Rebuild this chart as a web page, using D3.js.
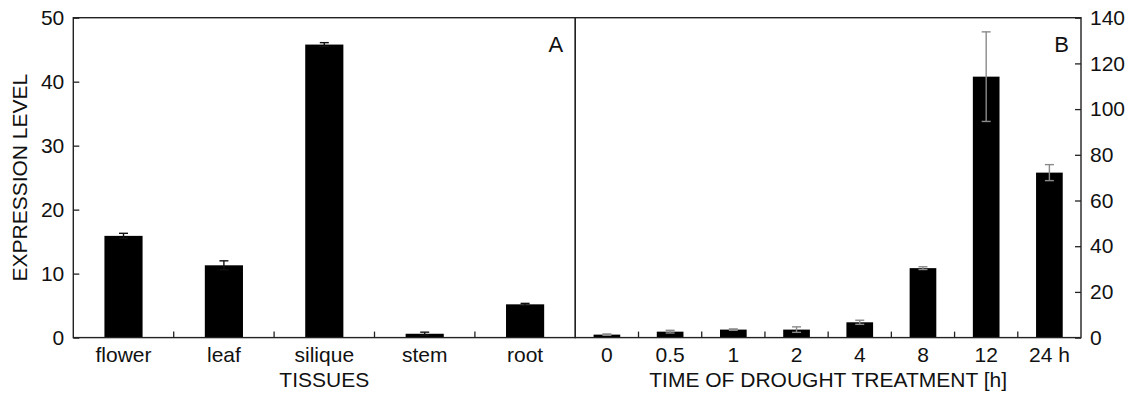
<!DOCTYPE html>
<html>
<head>
<meta charset="utf-8">
<script src="https://cdn.jsdelivr.net/npm/d3@7"></script>
<style>
  body { margin: 0; background: #fff; }
  text { font-family: "Liberation Sans", Arial, sans-serif; fill: #111; }
</style>
</head>
<body>
<svg id="chart" width="1128" height="394"></svg>
<script>
// panel A: tissues
const tissues = ["flower", "leaf", "silique", "stem", "root"];
const tissueValues = [15.9, 11.3, 45.8, 0.6, 5.2];
const tissueErrors = [0.4, 0.7, 0.3, 0.25, 0.15];
const yTicksA = [0, 10, 20, 30, 40, 50];

// panel B: time of drought treatment
const times = ["0", "0.5", "1", "2", "4", "8", "12", "24 h"];
const droughtValues = [1.3, 2.6, 3.5, 3.5, 6.7, 30.4, 114.2, 72.2];
const droughtErrors = [0.3, 0.6, 0.3, 1.2, 0.9, 0.6, 19.6, 3.5];
const yTicksB = [0, 20, 40, 60, 80, 100, 120, 140];

const svg = d3.select("#chart");
const plotTop = 17.7, plotBottom = 337.6;
const leftA = 73.3, mid = 575.3, rightB = 1081;
const fontSize = 21;

function drawPanel(cats, values, errors, ticks, x0, x1, yMax, barPad, errColor, side, letter) {
  const x = d3.scaleBand().domain(cats).range([x0, x1]).paddingInner(0).paddingOuter(0);
  const y = d3.scaleLinear().domain([0, yMax]).range([plotBottom, plotTop]);
  const g = svg.append("g");
  const bw = x.bandwidth() * (1 - barPad);

  // bars
  g.selectAll(".bar")
    .data(values)
    .enter().append("rect")
    .attr("class", "bar")
    .attr("x", (d, i) => x(cats[i]) + (x.bandwidth() - bw) / 2)
    .attr("y", d => y(d))
    .attr("width", bw)
    .attr("height", d => y(0) - y(d))
    .style("fill", "#000");

  // error bars
  const eg = g.selectAll(".err")
    .data(values)
    .enter().append("g")
    .attr("class", "err")
    .style("stroke", errColor)
    .style("stroke-width", 1.4);
  eg.append("line")
    .attr("x1", (d, i) => x(cats[i]) + x.bandwidth() / 2)
    .attr("x2", (d, i) => x(cats[i]) + x.bandwidth() / 2)
    .attr("y1", (d, i) => y(d + errors[i]))
    .attr("y2", (d, i) => y(Math.max(0, d - errors[i])));
  [1, -1].forEach(s => {
    eg.append("line")
      .attr("x1", (d, i) => x(cats[i]) + x.bandwidth() / 2 - 4.5)
      .attr("x2", (d, i) => x(cats[i]) + x.bandwidth() / 2 + 4.5)
      .attr("y1", (d, i) => y(Math.max(0, d + s * errors[i])))
      .attr("y2", (d, i) => y(Math.max(0, d + s * errors[i])));
  });

  // ticks between categories, pointing up
  g.selectAll(".sep")
    .data(cats.slice(1))
    .enter().append("line")
    .attr("x1", d => x(d)).attr("x2", d => x(d))
    .attr("y1", plotBottom).attr("y2", plotBottom - 6)
    .style("stroke", "#222").style("stroke-width", 1.3);

  // category labels
  const xAxis = g.append("g")
    .attr("transform", `translate(0,${plotBottom})`)
    .call(d3.axisBottom(x).tickSize(0).tickPadding(9));
  xAxis.select(".domain").remove();
  xAxis.selectAll("text").style("font-size", fontSize + "px").style("font-family", null);

  // value axis with inward ticks
  const axis = side === "left" ? d3.axisLeft(y) : d3.axisRight(y);
  const yAxis = g.append("g")
    .attr("transform", `translate(${side === "left" ? x0 : x1},0)`)
    .call(axis.tickValues(ticks).tickSize(-6).tickPadding(9).tickFormat(d3.format("d")));
  yAxis.select(".domain").remove();
  yAxis.selectAll("line").style("stroke", "#222").style("stroke-width", 1.3);
  yAxis.selectAll("text").style("font-size", fontSize + "px").style("font-family", null);

  // frame
  g.append("rect")
    .attr("x", x0).attr("y", plotTop)
    .attr("width", x1 - x0).attr("height", plotBottom - plotTop)
    .style("fill", "none").style("stroke", "#222").style("stroke-width", 1.4);

  // panel letter
  g.append("text")
    .attr("x", x1 - 12).attr("y", plotTop + 34)
    .attr("text-anchor", "end")
    .style("font-size", "22px")
    .text(letter);

  return x;
}

drawPanel(tissues, tissueValues, tissueErrors, yTicksA, leftA, mid, 50, 0.62, "#111", "left", "A");
drawPanel(times, droughtValues, droughtErrors, yTicksB, mid, rightB, 140, 0.578, "#8a8a8a", "right", "B");

// axis titles
svg.append("text")
  .attr("x", (leftA + mid) / 2).attr("y", 387)
  .attr("text-anchor", "middle")
  .style("font-size", fontSize + "px")
  .text("TISSUES");

svg.append("text")
  .attr("x", (mid + rightB) / 2).attr("y", 387)
  .attr("text-anchor", "middle")
  .style("font-size", fontSize + "px")
  .text("TIME OF DROUGHT TREATMENT [h]");

svg.append("text")
  .attr("transform", `translate(27,${(plotTop + plotBottom) / 2}) rotate(-90)`)
  .attr("text-anchor", "middle")
  .style("font-size", fontSize + "px")
  .text("EXPRESSION LEVEL");
</script>
</body>
</html>
